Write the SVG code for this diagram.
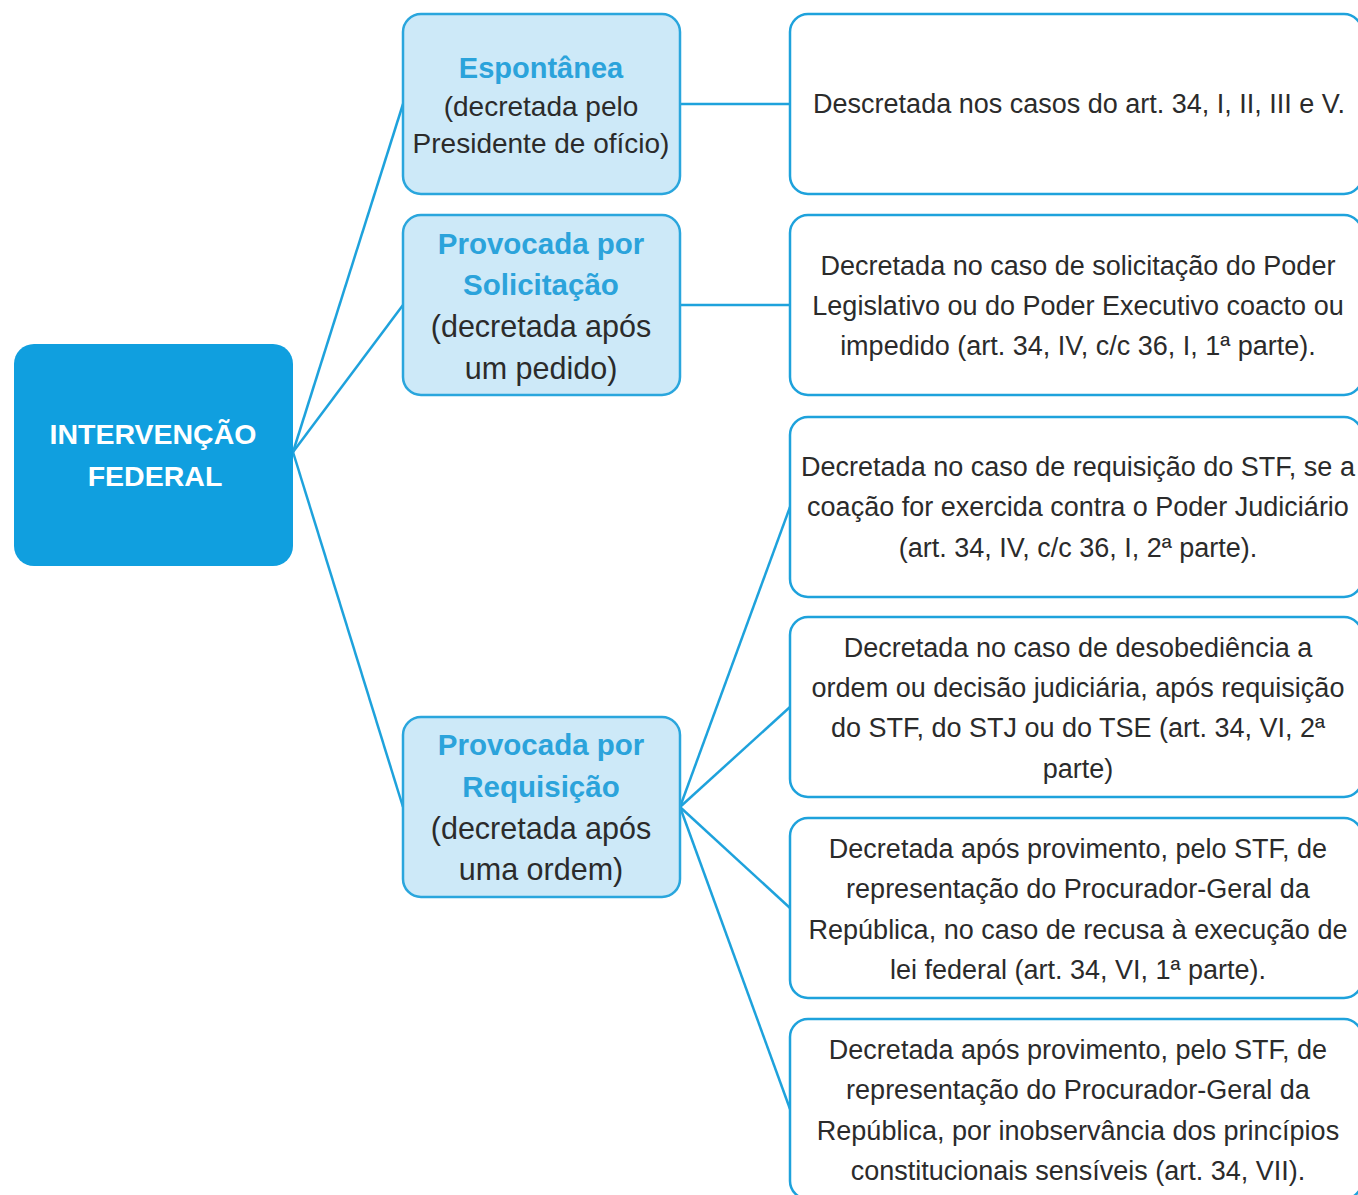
<svg xmlns="http://www.w3.org/2000/svg" width="1358" height="1195" viewBox="0 0 1358 1195">
<style>
.root{fill:#109fdf}
.rt{font-family:"Liberation Sans",Arial,sans-serif;font-weight:bold;font-size:28.5px;fill:#ffffff;text-anchor:middle}
.mid{fill:#cde9f8;stroke:#2aa6dd;stroke-width:2.5}
.hd{font-family:"Liberation Sans",Arial,sans-serif;font-weight:bold;fill:#2ba3db;text-anchor:middle}
.mt{font-family:"Liberation Sans",Arial,sans-serif;fill:#2b2b2b;text-anchor:middle}
.leaf{fill:#ffffff;stroke:#1ea2dc;stroke-width:2.5}
.lt{font-family:"Liberation Sans",Arial,sans-serif;font-size:27px;fill:#2b2b2b;text-anchor:middle}
.c{stroke:#1ea2dc;stroke-width:2.5;fill:none}
</style>
<rect width="1358" height="1195" fill="#ffffff"/>
<g id="connectors">
<line class="c" x1="293" y1="452" x2="403" y2="104"/>
<line class="c" x1="293" y1="452" x2="403" y2="305"/>
<line class="c" x1="293" y1="452" x2="403" y2="807"/>
<line class="c" x1="680" y1="104" x2="790" y2="104"/>
<line class="c" x1="680" y1="305" x2="790" y2="305"/>
<line class="c" x1="680" y1="807" x2="790" y2="507"/>
<line class="c" x1="680" y1="807" x2="790" y2="707"/>
<line class="c" x1="680" y1="807" x2="790" y2="908"/>
<line class="c" x1="680" y1="807" x2="790" y2="1109"/>
</g>
<g id="root">
<rect class="root" x="14" y="344" width="279" height="222" rx="20"/>
<text class="rt" x="153" y="444">INTERVENÇÃO</text>
<text class="rt" x="155" y="486">FEDERAL</text>
</g>
<g id="espontanea">
<rect class="mid" x="403" y="14" width="277" height="180" rx="18"/>
<text class="hd" x="541" y="78" font-size="29">Espontânea</text>
<text class="mt" x="541" y="116" font-size="28">(decretada pelo</text>
<text class="mt" x="541" y="153" font-size="28">Presidente de ofício)</text>
</g>
<g id="solicitacao">
<rect class="mid" x="403" y="215" width="277" height="180" rx="18"/>
<text class="hd" x="541" y="254" font-size="29.5">Provocada por</text>
<text class="hd" x="541" y="295" font-size="29.5">Solicitação</text>
<text class="mt" x="541" y="337" font-size="30.5">(decretada após</text>
<text class="mt" x="541" y="379" font-size="30.5">um pedido)</text>
</g>
<g id="requisicao">
<rect class="mid" x="403" y="717" width="277" height="180" rx="18"/>
<text class="hd" x="541" y="755" font-size="29.5">Provocada por</text>
<text class="hd" x="541" y="797" font-size="29.5">Requisição</text>
<text class="mt" x="541" y="839" font-size="30.5">(decretada após</text>
<text class="mt" x="541" y="880" font-size="30.5">uma ordem)</text>
</g>
<g id="leaf1">
<rect class="leaf" x="790" y="14" width="572" height="180" rx="18"/>
<text class="lt" x="1079" y="113">Descretada nos casos do art. 34, I, II, III e V.</text>
</g>
<g id="leaf2">
<rect class="leaf" x="790" y="215" width="572" height="180" rx="18"/>
<text class="lt" x="1078" y="275">Decretada no caso de solicitação do Poder</text>
<text class="lt" x="1078" y="315">Legislativo ou do Poder Executivo coacto ou</text>
<text class="lt" x="1078" y="355">impedido (art. 34, IV, c/c 36, I, 1ª parte).</text>
</g>
<g id="leaf3">
<rect class="leaf" x="790" y="417" width="572" height="180" rx="18"/>
<text class="lt" x="1078" y="476">Decretada no caso de requisição do STF, se a</text>
<text class="lt" x="1078" y="516">coação for exercida contra o Poder Judiciário</text>
<text class="lt" x="1078" y="557">(art. 34, IV, c/c 36, I, 2ª parte).</text>
</g>
<g id="leaf4">
<rect class="leaf" x="790" y="617" width="572" height="180" rx="18"/>
<text class="lt" x="1078" y="657">Decretada no caso de desobediência a</text>
<text class="lt" x="1078" y="697">ordem ou decisão judiciária, após requisição</text>
<text class="lt" x="1078" y="737">do STF, do STJ ou do TSE (art. 34, VI, 2ª</text>
<text class="lt" x="1078" y="778">parte)</text>
</g>
<g id="leaf5">
<rect class="leaf" x="790" y="818" width="572" height="180" rx="18"/>
<text class="lt" x="1078" y="858">Decretada após provimento, pelo STF, de</text>
<text class="lt" x="1078" y="898">representação do Procurador-Geral da</text>
<text class="lt" x="1078" y="939">República, no caso de recusa à execução de</text>
<text class="lt" x="1078" y="979">lei federal (art. 34, VI, 1ª parte).</text>
</g>
<g id="leaf6">
<rect class="leaf" x="790" y="1019" width="572" height="180" rx="18"/>
<text class="lt" x="1078" y="1059">Decretada após provimento, pelo STF, de</text>
<text class="lt" x="1078" y="1099">representação do Procurador-Geral da</text>
<text class="lt" x="1078" y="1140">República, por inobservância dos princípios</text>
<text class="lt" x="1078" y="1180">constitucionais sensíveis (art. 34, VII).</text>
</g>
</svg>
